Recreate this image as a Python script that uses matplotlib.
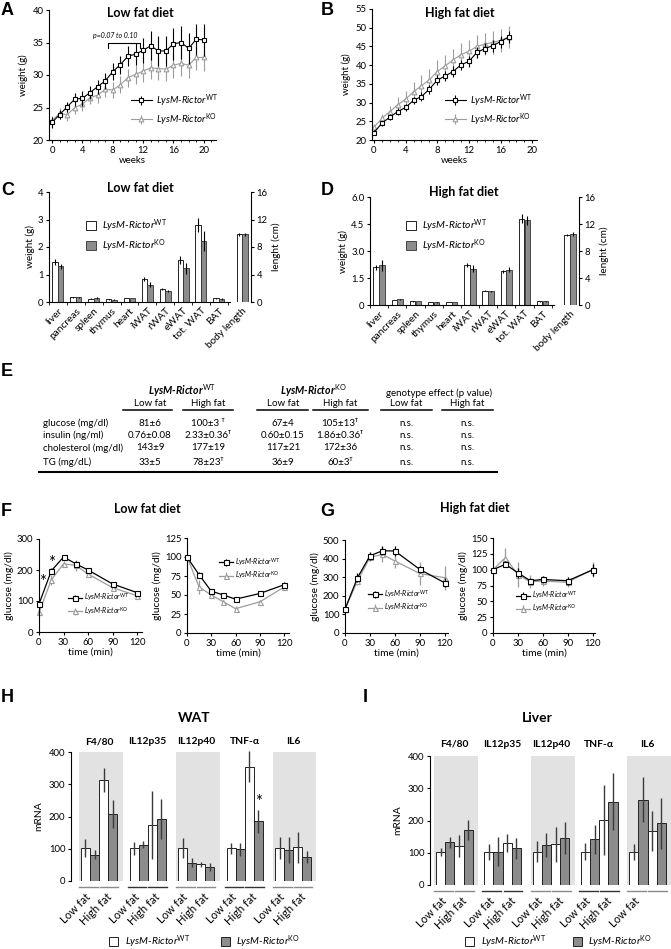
import numpy as np
import matplotlib.pyplot as plt
import matplotlib.transforms as mtransforms
from matplotlib.patches import Patch
from matplotlib.lines import Line2D

plt.rcParams['font.family'] = ['Lato', 'DejaVu Sans']
plt.rcParams['mathtext.fontset'] = 'custom'
plt.rcParams['mathtext.rm'] = 'Lato'
plt.rcParams['mathtext.it'] = 'Lato:italic'
plt.rcParams['mathtext.bf'] = 'Lato:bold'
plt.rcParams['font.size'] = 6.5
plt.rcParams['axes.linewidth'] = 0.8
plt.rcParams['xtick.major.size'] = 2.5
plt.rcParams['ytick.major.size'] = 2.5
plt.rcParams['xtick.minor.size'] = 1.5
plt.rcParams['xtick.major.width'] = 0.8
plt.rcParams['ytick.major.width'] = 0.8
plt.rcParams['xtick.major.pad'] = 1.5
plt.rcParams['ytick.major.pad'] = 1.5
plt.rcParams['xtick.labelsize'] = 6.8
plt.rcParams['ytick.labelsize'] = 6.8

W, H = 671, 949
WT_LABEL = r'LysM-Rictor$^{\mathrm{WT}}$'
KO_LABEL = r'LysM-Rictor$^{\mathrm{KO}}$'
KO_LINE = '#9c9c9c'
KO_BAR = '#8c8c8c'
BG = '#e2e2e2'

# ---- A / B: body weight curves ----
weeks_lf = np.arange(21)
wt_lf = [22.7, 23.9, 25.1, 26.3, 26.4, 27.3, 28.2, 29.1, 30.5, 31.6, 32.9,
         33.2, 33.8, 34.5, 33.7, 33.7, 34.8, 35.0, 34.1, 35.5, 35.4]
wt_lf_err = [0.8, 0.7, 0.8, 1.0, 1.1, 1.0, 1.1, 1.2, 1.3, 1.4, 1.5,
             1.7, 1.9, 2.2, 2.3, 2.3, 2.5, 2.6, 2.4, 2.4, 2.5]
ko_lf = [23.0, 24.1, 23.9, 25.0, 25.5, 26.5, 26.9, 27.8, 27.7, 28.5, 29.6,
         30.1, 30.6, 31.1, 31.0, 30.9, 31.5, 31.8, 31.5, 32.7, 32.7]
ko_lf_err = [0.7, 0.8, 1.0, 1.0, 1.1, 1.0, 1.2, 1.2, 1.3, 1.3, 1.4,
             1.5, 1.6, 1.7, 1.7, 1.8, 1.9, 2.0, 1.9, 2.0, 2.1]

weeks_hf = np.arange(18)
wt_hf = [22.0, 24.5, 26.1, 27.6, 28.7, 30.6, 31.6, 33.6, 36.0, 37.1, 38.3,
         40.1, 41.0, 43.4, 44.4, 45.2, 46.3, 47.5]
wt_hf_err = [0.6, 0.7, 0.8, 0.9, 1.0, 1.0, 1.1, 1.2, 1.3, 1.3, 1.4, 1.4,
             1.5, 1.5, 1.5, 1.6, 1.6, 1.7]
ko_hf = [23.4, 25.8, 27.6, 29.4, 30.9, 32.9, 34.5, 36.1, 38.3, 39.8, 41.4,
         42.8, 43.7, 45.0, 45.6, 46.1, 46.6, 47.5]
ko_hf_err = [1.0, 1.2, 1.5, 2.0, 2.3, 2.5, 2.8, 2.8, 3.0, 3.0, 3.0, 3.0,
             3.0, 3.0, 3.0, 3.0, 3.0, 3.0]

# ---- C / D: organ weights ----
organs = ['liver', 'pancreas', 'spleen', 'thymus', 'heart', 'iWAT', 'rWAT',
          'eWAT', 'tot. WAT', 'BAT']
org_wt_lf = [1.45, 0.18, 0.12, 0.10, 0.15, 0.83, 0.48, 1.52, 2.80, 0.13]
org_wt_lf_err = [0.12, 0.02, 0.02, 0.01, 0.01, 0.07, 0.03, 0.15, 0.25, 0.02]
org_ko_lf = [1.30, 0.18, 0.14, 0.09, 0.15, 0.63, 0.40, 1.22, 2.22, 0.11]
org_ko_lf_err = [0.10, 0.02, 0.03, 0.01, 0.01, 0.10, 0.03, 0.20, 0.38, 0.02]
body_lf = [9.85, 9.85]
body_lf_err = [0.2, 0.2]
org_wt_hf = [2.10, 0.28, 0.20, 0.15, 0.18, 2.22, 0.80, 1.87, 4.80, 0.20]
org_wt_hf_err = [0.15, 0.02, 0.02, 0.01, 0.01, 0.12, 0.03, 0.10, 0.25, 0.02]
org_ko_hf = [2.20, 0.33, 0.22, 0.14, 0.18, 2.02, 0.76, 1.97, 4.72, 0.20]
org_ko_hf_err = [0.30, 0.03, 0.02, 0.01, 0.01, 0.20, 0.03, 0.12, 0.25, 0.02]
body_hf = [10.3, 10.5]
body_hf_err = [0.15, 0.25]

# ---- E: plasma parameters ----
table_rows = ['glucose (mg/dl)', 'insulin (ng/ml)', 'cholesterol (mg/dl)',
              'TG (mg/dL)']
T = 'ᵀ'
table_vals = [
    ['81±6', '100±3 ' + T, '67±4', '105±13' + T, 'n.s.', 'n.s.'],
    ['0.76±0.08', '2.33±0.36' + T, '0.60±0.15', '1.86±0.36' + T, 'n.s.', 'n.s.'],
    ['143±9', '177±19', '117±21', '172±36', 'n.s.', 'n.s.'],
    ['33±5', '78±23' + T, '36±9', '60±3' + T, 'n.s.', 'n.s.'],
]
sub_headers = ['Low fat', 'High fat', 'Low fat', 'High fat', 'Low fat',
               'High fat']

# ---- F / G: glucose and insulin tolerance ----
t_min = [0, 15, 30, 45, 60, 90, 120]
gtt_lf_wt = [90, 197, 242, 220, 200, 155, 127]
gtt_lf_wt_err = [8, 10, 8, 10, 8, 7, 6]
gtt_lf_ko = [63, 168, 220, 215, 187, 143, 117]
gtt_lf_ko_err = [12, 15, 10, 18, 10, 8, 7]
itt_lf_wt = [100, 76.5, 55, 50, 44.5, 52, 63.5]
itt_lf_wt_err = [0, 4, 3, 2, 2, 3, 3]
itt_lf_ko = [100, 60.5, 50, 41, 32, 41, 60.5]
itt_lf_ko_err = [0, 9, 3, 2, 3, 3, 3]
gtt_hf_wt = [128, 297, 415, 442, 441, 342, 270]
gtt_hf_wt_err = [10, 25, 20, 25, 25, 20, 25]
gtt_hf_ko = [128, 279, 406, 423, 387, 320, 297]
gtt_hf_ko_err = [10, 20, 20, 40, 40, 60, 65]
itt_hf_wt = [100, 108.5, 95, 82.5, 84.5, 82.5, 99.5]
itt_hf_wt_err = [2, 5, 8, 5, 6, 6, 10]
itt_hf_ko = [100, 119, 92, 81, 82, 80, 100.5]
itt_hf_ko_err = [3, 15, 20, 10, 8, 8, 12]

# ---- H / I: cytokine mRNA ----
cyto = ['F4/80', 'IL12p35', 'IL12p40', 'TNF-α', 'IL6']
wat_wt_lf = [102, 102, 102, 102, 102]
wat_ko_lf = [82, 113, 57, 98, 95]
wat_wt_hf = [312, 173, 52, 355, 105]
wat_ko_hf = [207, 191, 43, 185, 74]
wat_wt_lf_err = [28, 20, 30, 17, 35]
wat_ko_lf_err = [13, 10, 15, 20, 40]
wat_wt_hf_err = [37, 105, 8, 49, 48]
wat_ko_hf_err = [44, 62, 12, 35, 18]
liv_wt_lf = [103, 103, 103, 103, 103]
liv_ko_lf = [132, 103, 124, 142, 264]
liv_wt_hf = [121, 129, 126, 201, 167]
liv_ko_hf = [170, 114, 145, 258, 191]
liv_wt_lf_err = [12, 25, 33, 27, 25]
liv_ko_lf_err = [18, 45, 36, 45, 70]
liv_wt_hf_err = [35, 28, 55, 108, 62]
liv_ko_hf_err = [32, 32, 50, 88, 78]

fig = plt.figure(figsize=(W / 100, H / 100), dpi=100)


def add_px(x0, y0, x1, y1):
    return fig.add_axes([x0 / W, 1 - y1 / H, (x1 - x0) / W, (y1 - y0) / H])


def ftext(x, y, s, **kw):
    fig.text(x / W, 1 - y / H, s, **kw)


def fline(x0, x1, y, lw=1.0, color='k'):
    fig.add_artist(Line2D([x0 / W, x1 / W], [1 - y / H, 1 - y / H],
                          color=color, lw=lw))


def clean(ax):
    ax.spines['top'].set_visible(False)
    ax.spines['right'].set_visible(False)


def curves(ax, x, wt, wt_err, ko, ko_err, ms, lw):
    ko_h = ax.errorbar(x, ko, yerr=ko_err, color=KO_LINE, marker='^',
                       mfc='white', mec=KO_LINE, ms=ms, lw=lw, elinewidth=lw,
                       mew=0.8, capsize=0, zorder=2, clip_on=False)
    wt_h = ax.errorbar(x, wt, yerr=wt_err, color='k', marker='s',
                       mfc='white', mec='k', ms=ms, lw=lw, elinewidth=lw,
                       mew=0.8, capsize=0, zorder=3, clip_on=False)
    return wt_h, ko_h


# panel letters
for letter, lx, ly in [('A', 1, 2), ('B', 321, 2), ('C', 1, 182),
                       ('D', 321, 182), ('E', 1, 363), ('F', 1, 503),
                       ('G', 320, 503), ('H', 1, 689), ('I', 363, 689)]:
    ftext(lx, ly, letter, fontsize=13, fontweight='bold', ha='left',
          va='top', family='Liberation Sans')

# ================= A =================
axA = add_px(49, 10, 216, 140)
h = curves(axA, weeks_lf, wt_lf, wt_lf_err, ko_lf, ko_lf_err, 3.4, 0.8)
axA.set_xlim(-0.4, 21.6)
axA.set_ylim(20, 40)
axA.set_xticks(np.arange(0, 21, 4))
axA.set_xticks(np.arange(0, 22, 1), minor=True)
axA.set_yticks(np.arange(20, 41, 5))
axA.set_xlabel('weeks', fontsize=7, labelpad=1)
axA.set_ylabel('weight (g)', fontsize=7, labelpad=3)
axA.text(0.545, 0.975, 'Low fat diet', transform=axA.transAxes,
         fontsize=9, fontweight='bold', ha='center', va='center')
axA.legend(h, [WT_LABEL, KO_LABEL], loc='center left', frameon=False,
           bbox_to_anchor=(0.46, 0.23), borderpad=0, handlelength=2.2,
           handletextpad=0.4, labelspacing=0.25, prop={'style': 'italic',
                                                      'size': 7})
axA.plot([7.4, 7.4, 11.6, 11.6], [34.1, 35.0, 35.0, 34.1], color='k', lw=0.8)
axA.text(8.3, 36.1, 'p=0.07 to 0.10', fontsize=5, style='italic', ha='center',
         va='center')
clean(axA)

# ================= B =================
axB = add_px(372, 9, 537, 140)
h = curves(axB, weeks_hf, wt_hf, wt_hf_err, ko_hf, ko_hf_err, 3.4, 0.8)
axB.set_xlim(-0.25, 20.6)
axB.set_ylim(20, 55)
axB.set_xticks(np.arange(0, 21, 4))
axB.set_xticks(np.arange(0, 21, 1), minor=True)
axB.set_yticks(np.arange(20, 56, 5))
axB.set_xlabel('weeks', fontsize=7, labelpad=1)
axB.set_ylabel('weight (g)', fontsize=7, labelpad=3)
axB.text(0.533, 0.97, 'High fat diet', transform=axB.transAxes,
         fontsize=9, fontweight='bold', ha='center', va='center')
axB.legend(h, [WT_LABEL, KO_LABEL], loc='center left', frameon=False,
           bbox_to_anchor=(0.41, 0.23), borderpad=0, handlelength=2.2,
           handletextpad=0.4, labelspacing=0.25, prop={'style': 'italic',
                                                      'size': 7})
clean(axB)


# ================= C / D =================
def organ_panel(box, wt, wt_err, ko, ko_err, body, body_err, xlim, body_x,
                ylim, yticks, ytl, title, title_y):
    ax = add_px(*box)
    x = np.arange(len(organs))
    ax.bar(x - 0.16, wt, 0.3, color='white', edgecolor='k', lw=0.6,
           yerr=wt_err, error_kw=dict(lw=0.8, capsize=0, ecolor='k'))
    ax.bar(x + 0.16, ko, 0.3, color=KO_BAR, edgecolor='#333333', lw=0.6,
           yerr=ko_err, error_kw=dict(lw=0.8, capsize=0, ecolor='k'))
    ax.set_xlim(*xlim)
    ax.set_ylim(*ylim)
    ax.set_yticks(yticks)
    ax.set_yticklabels(ytl)
    ax.set_xticks(list(x) + [body_x])
    ax.set_xticklabels(organs + ['body length'], rotation=45, ha='right',
                       rotation_mode='anchor', fontsize=7.3)
    ax.tick_params(axis='x', length=0, pad=3)
    ax.set_xticks(np.arange(-0.5, len(organs), 1.0), minor=True)
    ax.tick_params(axis='x', which='minor', length=2)
    ax.spines['bottom'].set_bounds(xlim[0], len(organs) - 0.4)
    ax.set_ylabel('weight (g)', fontsize=7.2, labelpad=2)
    clean(ax)
    axt = ax.twinx()
    axt.bar([body_x - 0.16], [body[0]], 0.3, color='white', edgecolor='k',
            lw=0.6, yerr=[body_err[0]],
            error_kw=dict(lw=0.8, capsize=0, ecolor='k'))
    axt.bar([body_x + 0.16], [body[1]], 0.3, color=KO_BAR,
            edgecolor='#333333', lw=0.6, yerr=[body_err[1]],
            error_kw=dict(lw=0.8, capsize=0, ecolor='k'))
    axt.set_ylim(0, 16)
    axt.set_yticks([0, 4, 8, 12, 16])
    axt.set_ylabel('lenght (cm)', fontsize=7.2, labelpad=3)
    for s in ['top', 'left', 'bottom']:
        axt.spines[s].set_visible(False)
    fx0, fx1 = box[0], box[2]
    ftext(fx0 + 0.45 * (fx1 - fx0), title_y, title, fontsize=9,
          fontweight='bold', ha='center', va='center')
    handles = [Patch(facecolor='white', edgecolor='k', lw=0.6),
               Patch(facecolor=KO_BAR, edgecolor='#333333', lw=0.6)]
    return ax, handles


axC, hc = organ_panel((49, 192, 251, 302), org_wt_lf, org_wt_lf_err,
                      org_ko_lf, org_ko_lf_err, body_lf, body_lf_err,
                      (-0.45, 10.8), 10.3, (0, 4), [0, 1, 2, 3, 4],
                      ['0', '1', '2', '3', '4'], 'Low fat diet', 188)
axC.legend(hc, [WT_LABEL, KO_LABEL], loc='center left', frameon=False,
           bbox_to_anchor=(0.16, 0.6), borderpad=0, handlelength=0.9,
           handleheight=0.9, handletextpad=0.6, labelspacing=0.35,
           prop={'style': 'italic', 'size': 7.4})
axD, hd = organ_panel((370, 197, 579, 305), org_wt_hf, org_wt_hf_err,
                      org_ko_hf, org_ko_hf_err, body_hf, body_hf_err,
                      (-0.44, 11.0), 10.5, (0, 6), [0, 1.5, 3, 4.5, 6],
                      ['0', '1.5', '3.0', '4.5', '6.0'], 'High fat diet', 192)
axD.legend(hd, [WT_LABEL, KO_LABEL], loc='center left', frameon=False,
           bbox_to_anchor=(0.15, 0.64), borderpad=0, handlelength=0.9,
           handleheight=0.9, handletextpad=0.6, labelspacing=0.35,
           prop={'style': 'italic', 'size': 7.4})

# ================= E =================
col_x = [150, 208, 283, 340, 406, 467]
row_y = [423, 435, 448, 462]
spans = [(123, 172), (183, 233), (257, 308), (313, 368), (381, 432),
         (442, 493)]
ftext(182, 391, WT_LABEL, fontsize=7.6, fontweight='bold', style='italic',
      ha='center', va='center')
ftext(313, 391, KO_LABEL, fontsize=7.6, fontweight='bold', style='italic',
      ha='center', va='center')
ftext(439, 393, 'genotype effect (p value)', fontsize=7, ha='center',
      va='center')
for cx, sh, (s0, s1) in zip(col_x, sub_headers, spans):
    ftext(cx, 404, sh, fontsize=7, ha='center', va='center')
    fline(s0, s1, 409.5, lw=1.1)
for ry, name, vals in zip(row_y, table_rows, table_vals):
    ftext(43, ry, name, fontsize=7, ha='left', va='center')
    for cx, v in zip(col_x, vals):
        ftext(cx, ry, v, fontsize=7, ha='center', va='center')
fline(39, 497, 472, lw=1.5)


# ================= F / G =================
def tol_panel(box, wt, wt_err, ko, ko_err, ylim, yticks, xlim, leg_anchor,
              ylabel=True):
    ax = add_px(*box)
    h = curves(ax, t_min, wt, wt_err, ko, ko_err, 3.6, 0.9)
    ax.set_xlim(*xlim)
    ax.set_ylim(*ylim)
    ax.set_xticks([0, 30, 60, 90, 120])
    ax.set_yticks(yticks)
    ax.set_xlabel('time (min)', fontsize=7.4, labelpad=1)
    if ylabel:
        ax.set_ylabel('glucose (mg/dl)', fontsize=7.4, labelpad=2)
    ax.legend(h, [WT_LABEL, KO_LABEL], loc='center left', frameon=False,
              bbox_to_anchor=leg_anchor, borderpad=0, handlelength=2.0,
              handletextpad=0.3, labelspacing=0.2,
              prop={'style': 'italic', 'size': 5})
    clean(ax)
    return ax


axF1 = tol_panel((39, 539, 142, 632), gtt_lf_wt, gtt_lf_wt_err, gtt_lf_ko,
                 gtt_lf_ko_err, (0, 300), [0, 100, 200, 300], (0, 126),
                 (0.25, 0.3))
axF1.text(4, 160, '*', fontsize=12, ha='center', va='center')
axF1.text(15, 222, '*', fontsize=12, ha='center', va='center')
axF2 = tol_panel((187, 538, 289, 633), itt_lf_wt, itt_lf_wt_err, itt_lf_ko,
                 itt_lf_ko_err, (0, 125), [0, 25, 50, 75, 100, 125],
                 (0, 126), (0.28, 0.68))
axG1 = tol_panel((345, 540, 448, 633), gtt_hf_wt, gtt_hf_wt_err, gtt_hf_ko,
                 gtt_hf_ko_err, (0, 500), [0, 100, 200, 300, 400, 500],
                 (0, 124), (0.19, 0.35))
axG2 = tol_panel((493, 538, 595, 633), itt_hf_wt, itt_hf_wt_err, itt_hf_ko,
                 itt_hf_ko_err, (0, 150), [0, 25, 50, 75, 100, 125, 150],
                 (0, 123), (0.19, 0.33))
ftext(147, 509, 'Low fat diet', fontsize=9, fontweight='bold',
      ha='center', va='center')
ftext(475, 508, 'High fat diet', fontsize=9, fontweight='bold',
      ha='center', va='center')


# ================= H / I =================
def cyto_panel(box, xlim, spacing, wt_lf, wt_lf_e, ko_lf, ko_lf_e, wt_hf,
               wt_hf_e, ko_hf, ko_hf_e, bg, sub_y, labels):
    ax = add_px(*box)
    trans = mtransforms.blended_transform_factory(ax.transData, ax.transAxes)
    starts = np.arange(len(cyto)) * spacing
    series = [(wt_lf, wt_lf_e, 'white'), (ko_lf, ko_lf_e, KO_BAR),
              (wt_hf, wt_hf_e, 'white'), (ko_hf, ko_hf_e, KO_BAR)]
    for i, (vals, errs, col) in enumerate(series):
        ax.bar(starts + 0.5 + i, vals, 1.0, color=col, edgecolor='#222222',
               lw=0.7, zorder=2)
        ax.errorbar(starts + 0.5 + i, vals, yerr=errs, fmt='none',
                    ecolor='#3a3a3a', elinewidth=1.0, capsize=0, zorder=3,
                    clip_on=False)
    for g, s in enumerate(starts):
        if bg[g]:
            ax.axvspan(s - 0.22, s + 4.62, color=BG, zorder=0, lw=0)
        ax.text(s + 2.0, sub_y, cyto[g], transform=trans, fontsize=7.4,
                fontweight='bold', ha='center', va='center')
        lc = '#8a8a8a' if bg[g] else '#333333'
        for k, (a, b) in enumerate([(-0.2, 1.85), (2.1, 4.15)]):
            ax.plot([s + a, s + b], [-0.047, -0.047], color=lc, lw=1.0,
                    transform=trans, clip_on=False)
            if k < len(labels[g]):
                ax.text(s + (a + b) / 2 + 0.5, -0.08, labels[g][k],
                        transform=trans, rotation=45, ha='right', va='top',
                        fontsize=8)
    ax.set_xlim(*xlim)
    ax.set_ylim(0, 400)
    ax.set_yticks([0, 100, 200, 300, 400])
    ax.set_xticks([])
    ax.set_ylabel('mRNA', fontsize=7.4, labelpad=4)
    for s in ['top', 'right', 'bottom']:
        ax.spines[s].set_visible(False)
    return ax, starts


both = ['Low fat', 'High fat']
axH, sH = cyto_panel((71, 752, 316, 881), (-1.11, 26.1), 5.39,
                     wat_wt_lf, wat_wt_lf_err, wat_ko_lf, wat_ko_lf_err,
                     wat_wt_hf, wat_wt_hf_err, wat_ko_hf, wat_ko_hf_err,
                     [True, False, True, False, True], 1.078, [both] * 5)
axH.text(sH[3] + 3.5, 245, '*', fontsize=12, ha='center', va='center')
axI, sI = cyto_panel((430, 756, 671, 885), (-0.65, 25.55), 5.25,
                     liv_wt_lf, liv_wt_lf_err, liv_ko_lf, liv_ko_lf_err,
                     liv_wt_hf, liv_wt_hf_err, liv_ko_hf, liv_ko_hf_err,
                     [True, False, True, False, True], 1.093,
                     [both] * 4 + [['Low fat']])
ftext(194, 718, 'WAT', fontsize=10, fontweight='bold', ha='center',
      va='center')
ftext(537, 718, 'Liver', fontsize=10, fontweight='bold', ha='center',
      va='center')

bar_handles = [Patch(facecolor='white', edgecolor='#222222', lw=0.7),
               Patch(facecolor=KO_BAR, edgecolor='#222222', lw=0.7)]
for lx, csp in [(104, 3.0), (460, 2.6)]:
    fig.legend(bar_handles, [WT_LABEL, KO_LABEL], loc='center left',
               bbox_to_anchor=(lx / W, 1 - 942 / H), ncol=2, frameon=False,
               borderpad=0, handlelength=0.9, handleheight=0.9,
               handletextpad=0.6, columnspacing=csp,
               prop={'style': 'italic', 'size': 7.4})

fig.savefig('out.png', dpi=100)
